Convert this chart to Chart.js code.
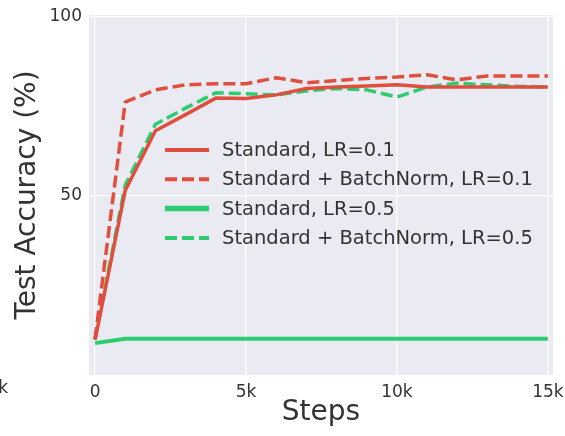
<!DOCTYPE html>
<html>
<head>
<meta charset="utf-8">
<script src="https://cdn.jsdelivr.net/npm/chart.js@4.4.1/dist/chart.umd.min.js"></script>
<style>
  html, body { margin: 0; padding: 0; background: #fff; }
  #wrap { width: 565px; height: 436px; }
</style>
</head>
<body>
<div id="wrap"><canvas id="acc-chart" width="565" height="436"></canvas></div>
<script>
const steps = [0, 1000, 2000, 3000, 4000, 5000, 6000, 7000, 8000, 9000, 10000, 11000, 12000, 13000, 14000, 15000];
const standardLr01 = [9.8, 51.5, 68.2, 72.7, 77.3, 77.2, 78.2, 80.0, 80.4, 80.7, 81.0, 80.4, 80.4, 80.4, 80.4, 80.4];
const batchNormLr01 = [10.0, 76.2, 79.6, 81.0, 81.3, 81.3, 83.0, 81.6, 82.2, 82.8, 83.2, 83.8, 82.4, 83.5, 83.5, 83.5];
const standardLr05 = [8.9, 10.1, 10.1, 10.1, 10.1, 10.1, 10.1, 10.1, 10.1, 10.1, 10.1, 10.1, 10.1, 10.1, 10.1, 10.1];
const batchNormLr05 = [10.0, 53.0, 70.0, 74.5, 78.8, 78.5, 78.2, 79.3, 80.0, 79.6, 77.6, 80.4, 81.5, 81.0, 80.6, 80.4];

const xTicks = [0, 5000, 10000, 15000];
const xTickLabels = ['0', '5k', '10k', '15k'];
const yTicks = [50, 100];
const yTickLabels = ['50', '100'];

const RED = '#e04e3d';
const GREEN = '#2ecc71';
const FONT = "'DejaVu Sans', sans-serif";
const TEXT = '#333333';

function points(values) {
  return steps.map((s, i) => ({ x: s, y: values[i] }));
}

// seaborn-style grey plot background
const plotBackground = {
  id: 'plotBackground',
  beforeDraw(chart) {
    const { ctx, chartArea: a } = chart;
    ctx.save();
    ctx.fillStyle = '#eaeaf2';
    ctx.fillRect(a.left, a.top, a.right - a.left, a.bottom - a.top);
    ctx.restore();
  }
};

// legend drawn inside the plot, no frame
const innerLegend = {
  id: 'innerLegend',
  afterDatasetsDraw(chart) {
    const ctx = chart.ctx;
    const x0 = 165, x1 = 209, tx = 222, y0 = 150, dy = 29.3;
    ctx.save();
    chart.data.datasets.forEach((ds, i) => {
      const y = y0 + i * dy;
      ctx.strokeStyle = ds.borderColor;
      ctx.lineWidth = ds.legendWidth;
      ctx.setLineDash(ds.borderDash || []);
      ctx.beginPath();
      ctx.moveTo(x0, y);
      ctx.lineTo(x1, y);
      ctx.stroke();
      ctx.setLineDash([]);
      ctx.fillStyle = TEXT;
      ctx.font = '19.5px ' + FONT;
      ctx.textBaseline = 'middle';
      ctx.fillText(ds.label, tx, y + 1);
    });
    // cut-off tick label of the neighbouring panel
    ctx.font = '17px ' + FONT;
    ctx.textAlign = 'right';
    ctx.fillText('15k', 8, 389);
    ctx.restore();
  }
};

const ctx = document.getElementById('acc-chart').getContext('2d');

const chart = new Chart(ctx, {
  type: 'line',
  data: {
    datasets: [
      { label: 'Standard, LR=0.1', data: points(standardLr01), borderColor: RED, borderWidth: 3.5, legendWidth: 4 },
      { label: 'Standard + BatchNorm, LR=0.1', data: points(batchNormLr01), borderColor: RED, borderWidth: 3.5, borderDash: [12, 5], legendWidth: 4 },
      { label: 'Standard, LR=0.5', data: points(standardLr05), borderColor: GREEN, borderWidth: 4, legendWidth: 5.5 },
      { label: 'Standard + BatchNorm, LR=0.5', data: points(batchNormLr05), borderColor: GREEN, borderWidth: 3.5, borderDash: [12, 5], legendWidth: 4 }
    ]
  },
  options: {
    responsive: false,
    animation: false,
    devicePixelRatio: 1,
    layout: { padding: { top: 15, right: 12, left: 0, bottom: 0 } },
    elements: {
      point: { radius: 0 },
      line: { tension: 0, borderCapStyle: 'butt', borderJoinStyle: 'round' }
    },
    plugins: {
      legend: { display: false },
      tooltip: { enabled: false }
    },
    scales: {
      x: {
        type: 'linear',
        min: -200,
        max: 15170,
        afterBuildTicks: (scale) => { scale.ticks = xTicks.map(v => ({ value: v })); },
        afterFit: (scale) => { scale.height = 61; scale.paddingLeft = 0; scale.paddingRight = 0; },
        ticks: {
          autoSkip: false,
          maxRotation: 0,
          padding: 7,
          color: TEXT,
          font: { family: FONT, size: 17 },
          callback: (v) => xTickLabels[xTicks.indexOf(v)]
        },
        grid: { color: '#ffffff', lineWidth: 1.3, drawTicks: false },
        border: { display: false },
        title: {
          display: true,
          text: 'Steps',
          color: TEXT,
          font: { family: FONT, size: 28 },
          padding: { top: 0, bottom: 6 }
        }
      },
      y: {
        min: 0,
        max: 100.5,
        afterBuildTicks: (scale) => { scale.ticks = yTicks.map(v => ({ value: v })); },
        afterFit: (scale) => { scale.width = 89; scale.paddingTop = 0; scale.paddingBottom = 0; },
        ticks: {
          padding: 7,
          color: TEXT,
          font: { family: FONT, size: 17 },
          callback: (v) => yTickLabels[yTicks.indexOf(v)]
        },
        grid: { color: '#ffffff', lineWidth: 1.3, drawTicks: false },
        border: { display: false },
        title: {
          display: true,
          text: 'Test Accuracy (%)',
          color: TEXT,
          font: { family: FONT, size: 28 },
          padding: { top: 11, bottom: 0 }
        }
      }
    }
  },
  plugins: [plotBackground, innerLegend]
});
</script>
</body>
</html>
